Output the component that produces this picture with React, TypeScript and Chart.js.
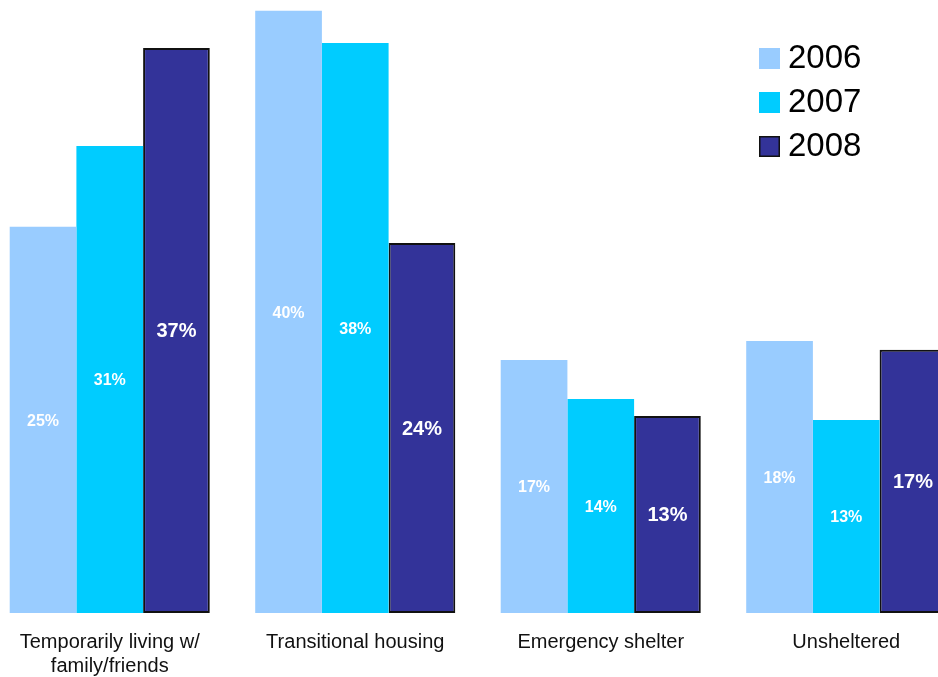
import React, { useEffect, useRef } from "react";
import { Chart, registerables } from "chart.js";

Chart.register(...registerables);

const categories: (string | string[])[] = [
  ["Temporarily living w/", "family/friends"],
  "Transitional housing",
  "Emergency shelter",
  "Unsheltered",
];
const seriesNames = ["2006", "2007", "2008"];
const values2006 = [25.45, 39.68, 16.68, 17.93];
const values2007 = [30.78, 37.57, 14.11, 12.72];
const values2008 = [37.24, 24.39, 12.99, 17.34];
const colors = ["#99CCFF", "#00CCFF", "#333399"];

const FONT = "'Liberation Sans', Arial, Helvetica, sans-serif";

const valueLabels = {
  id: "valueLabels",
  afterDatasetsDraw(chart: any) {
    const ctx = chart.ctx;
    ctx.save();
    ctx.fillStyle = "#ffffff";
    ctx.textAlign = "center";
    ctx.textBaseline = "middle";
    chart.data.datasets.forEach((ds: any, di: number) => {
      const meta = chart.getDatasetMeta(di);
      const size = di === 2 ? 20 : 16;
      ctx.font = `bold ${size}px ${FONT}`;
      meta.data.forEach((el: any, i: number) => {
        const v = ds.data[i];
        ctx.fillText(Math.round(v) + "%", el.x, (el.y + el.base) / 2 + 1.5);
      });
    });
    ctx.restore();
  },
};

const customLegend = {
  id: "customLegend",
  afterDraw(chart: any) {
    const ctx = chart.ctx;
    ctx.save();
    ctx.font = `33px ${FONT}`;
    ctx.textBaseline = "middle";
    ctx.textAlign = "left";
    const boxX = 772;
    const textX = 801;
    const firstY = 48;
    const step = 44;
    chart.data.datasets.forEach((ds: any, i: number) => {
      const y = firstY + i * step;
      ctx.fillStyle = ds.backgroundColor;
      ctx.fillRect(boxX, y, 21, 21);
      if (ds.borderWidth > 0) {
        ctx.strokeStyle = ds.borderColor;
        ctx.lineWidth = 1.5;
        ctx.strokeRect(boxX + 0.75, y + 0.75, 19.5, 19.5);
      }
      ctx.fillStyle = "#000000";
      ctx.fillText(ds.label, textX, y + 11);
    });
    ctx.restore();
  },
};

export default function App() {
  const canvasRef = useRef<HTMLCanvasElement | null>(null);

  useEffect(() => {
    if (!canvasRef.current) return;
    const data = [values2006, values2007, values2008];
    const chart = new Chart(canvasRef.current, {
      type: "bar",
      data: {
        labels: categories,
        datasets: seriesNames.map((name, i) => ({
          label: name,
          data: data[i],
          backgroundColor: colors[i],
          borderColor: i === 2 ? "#111111" : colors[i],
          borderWidth: i === 2 ? 2 : 0,
          borderSkipped: false,
          barPercentage: 1.0,
          categoryPercentage: 0.815,
        })),
      },
      options: {
        responsive: false,
        animation: false,
        devicePixelRatio: 1,
        layout: { padding: { top: 6, left: 0, right: 0, bottom: 0 } },
        plugins: {
          legend: { display: false },
          tooltip: { enabled: false },
        },
        scales: {
          x: {
            grid: { display: false, drawTicks: false },
            border: { display: false },
            ticks: {
              color: "#111111",
              font: { family: FONT, size: 20, lineHeight: 1.2 },
              padding: 17,
              maxRotation: 0,
              autoSkip: false,
            },
            afterFit(scale: any) {
              scale.height = 64;
            },
          },
          y: {
            display: false,
            min: 0,
            max: 40,
          },
        },
      },
      plugins: [valueLabels, customLegend],
    });
    return () => chart.destroy();
  }, []);

  return (
    <div
      style={{
        position: "absolute",
        left: 0,
        top: 0,
        width: 938,
        height: 677,
        overflow: "hidden",
        background: "#ffffff",
      }}
    >
      <canvas
        ref={canvasRef}
        width={982}
        height={677}
        style={{ position: "absolute", left: -13, top: 0, width: 982, height: 677 }}
      />
    </div>
  );
}
